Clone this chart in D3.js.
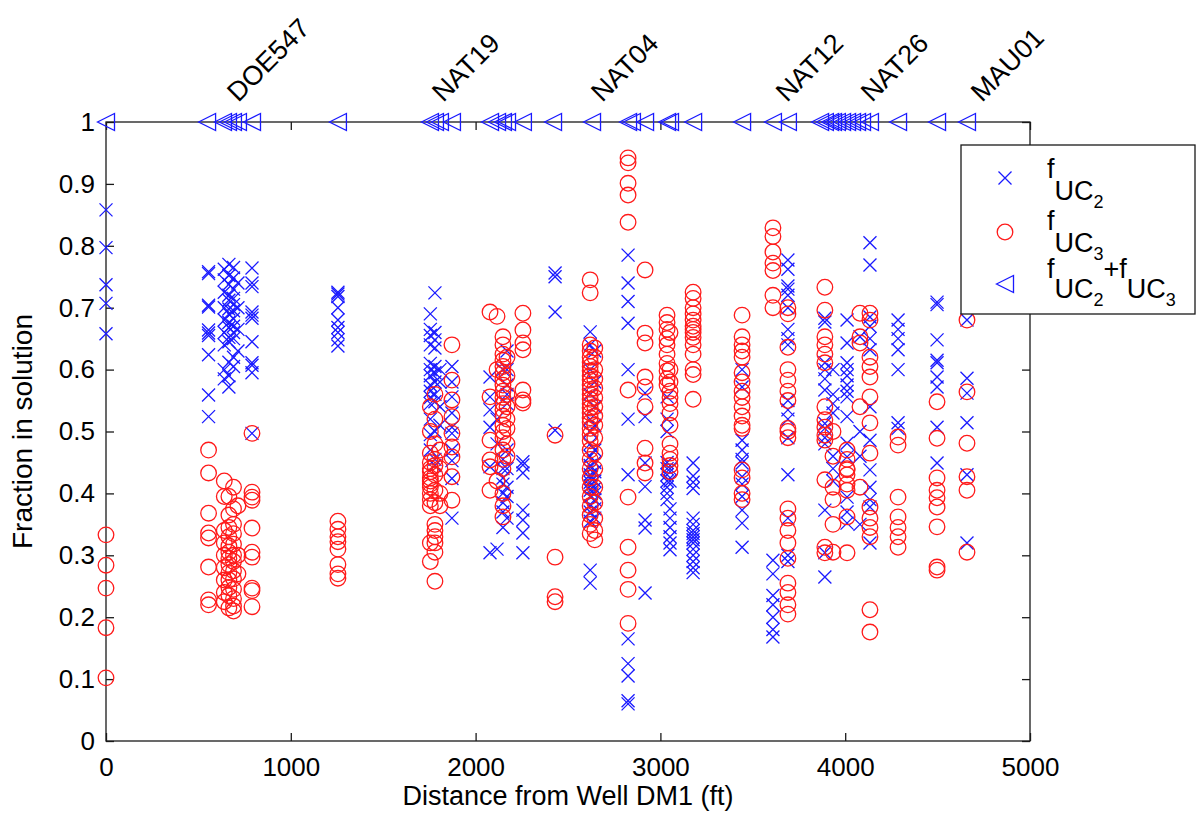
<!DOCTYPE html>
<html>
<head>
<meta charset="utf-8">
<script src="https://cdn.jsdelivr.net/npm/d3@7"></script>
<style>
  html, body { margin: 0; padding: 0; background: #fff; }
  svg { display: block; font-family: "Liberation Sans", Arial, Helvetica, sans-serif; }
</style>
</head>
<body>
<svg id="chart" width="1200" height="826"></svg>
<script>
// ---------------- data ----------------
const xTicks = [0, 1000, 2000, 3000, 4000, 5000];
const yTicks = [0, 0.1, 0.2, 0.3, 0.4, 0.5, 0.6, 0.7, 0.8, 0.9, 1];
const xTickLabels = ["0", "1000", "2000", "3000", "4000", "5000"];
const yTickLabels = ["0", "0.1", "0.2", "0.3", "0.4", "0.5", "0.6", "0.7", "0.8", "0.9", "1"];

const wellNames = ["DOE547", "NAT19", "NAT04", "NAT12", "NAT26", "MAU01"];
const wellDistances = [715, 1825, 2685, 3685, 4145, 4740];

// sample distances (ft) — one entry per group of samples
const sampleDistances = [0, 555, 640, 665, 690, 714, 790, 1255, 1755, 1780, 1807, 1872,
  2078, 2116, 2148, 2170, 2256, 2430, 2620, 2645, 2825, 2917, 3036, 3052, 3177,
  3442, 3609, 3690, 3890, 3934, 4010, 4080, 4134, 4286, 4497, 4659];

// f_UC2 values for each distance group
const fUC2 = [
  [0.858, 0.797, 0.737, 0.707, 0.658],
  [0.758, 0.755, 0.704, 0.701, 0.664, 0.659, 0.655, 0.624, 0.559, 0.524],
  [0.762, 0.745, 0.725, 0.700, 0.680, 0.660, 0.640, 0.600, 0.585],
  [0.770, 0.752, 0.738, 0.720, 0.712, 0.698, 0.690, 0.676, 0.668, 0.652, 0.645, 0.612, 0.590, 0.572],
  [0.765, 0.748, 0.730, 0.715, 0.705, 0.695, 0.682, 0.670, 0.660, 0.650, 0.620, 0.605],
  [0.740, 0.700, 0.665, 0.630],
  [0.764, 0.740, 0.734, 0.693, 0.688, 0.683, 0.645, 0.611, 0.607, 0.595, 0.497],
  [0.725, 0.722, 0.718, 0.700, 0.680, 0.668, 0.660, 0.648, 0.638],
  [0.690, 0.665, 0.655, 0.640, 0.610, 0.600, 0.590, 0.575, 0.565, 0.555, 0.545, 0.520, 0.495, 0.470],
  [0.724, 0.660, 0.648, 0.635, 0.605, 0.595, 0.580, 0.560, 0.548, 0.500, 0.455, 0.445],
  [0.600, 0.580, 0.540, 0.510],
  [0.605, 0.580, 0.556, 0.530, 0.507, 0.497, 0.470, 0.453, 0.424, 0.360],
  [0.588, 0.556, 0.535, 0.507, 0.443, 0.304],
  [0.520, 0.480, 0.310],
  [0.600, 0.455, 0.440, 0.425, 0.415, 0.400, 0.385, 0.370, 0.345],
  [0.630, 0.600, 0.575, 0.560, 0.545, 0.470, 0.440, 0.410, 0.395, 0.360],
  [0.451, 0.446, 0.433, 0.373, 0.357, 0.336, 0.304],
  [0.756, 0.750, 0.693, 0.502],
  [0.661, 0.640, 0.600, 0.560, 0.520, 0.500, 0.480, 0.460, 0.445, 0.438, 0.430, 0.425, 0.418, 0.412, 0.405, 0.395, 0.380, 0.370, 0.355, 0.276, 0.255],
  [0.630, 0.580, 0.540, 0.510, 0.470, 0.450, 0.435, 0.420, 0.408, 0.400, 0.390, 0.375, 0.360],
  [0.785, 0.740, 0.710, 0.675, 0.600, 0.520, 0.430, 0.165, 0.125, 0.105, 0.065, 0.060],
  [0.562, 0.524, 0.449, 0.411, 0.357, 0.344, 0.239],
  [0.556, 0.520, 0.500, 0.450, 0.440, 0.430, 0.420, 0.410, 0.400, 0.390],
  [0.440, 0.420, 0.375, 0.360, 0.345, 0.330, 0.320, 0.309],
  [0.449, 0.428, 0.418, 0.408, 0.360, 0.350, 0.340, 0.335, 0.330, 0.325, 0.320, 0.310, 0.300, 0.290, 0.280, 0.272],
  [0.600, 0.572, 0.486, 0.470, 0.455, 0.449, 0.427, 0.415, 0.395, 0.373, 0.352, 0.313],
  [0.292, 0.270, 0.235, 0.220, 0.200, 0.180, 0.168],
  [0.777, 0.762, 0.735, 0.730, 0.720, 0.700, 0.665, 0.650, 0.640, 0.550, 0.535, 0.520, 0.490, 0.430, 0.360, 0.300, 0.290],
  [0.683, 0.677, 0.611, 0.600, 0.585, 0.567, 0.513, 0.505, 0.490, 0.480, 0.373, 0.304, 0.265],
  [0.600, 0.560, 0.545, 0.530, 0.460, 0.440, 0.420],
  [0.680, 0.643, 0.611, 0.600, 0.590, 0.575, 0.565, 0.556, 0.524, 0.481, 0.459, 0.394, 0.370, 0.352],
  [0.653, 0.500, 0.460, 0.350],
  [0.805, 0.769, 0.685, 0.670, 0.650, 0.632, 0.540, 0.486, 0.438, 0.410, 0.390, 0.378, 0.320],
  [0.680, 0.665, 0.650, 0.632, 0.600, 0.514, 0.505],
  [0.709, 0.705, 0.648, 0.615, 0.611, 0.588, 0.572, 0.507, 0.449],
  [0.680, 0.586, 0.562, 0.514, 0.430, 0.320]
];

// f_UC3 values for each distance group
const fUC3 = [
  [0.333, 0.284, 0.247, 0.183, 0.102],
  [0.470, 0.433, 0.368, 0.336, 0.328, 0.281, 0.228, 0.220],
  [0.420, 0.395, 0.340, 0.320, 0.300, 0.280, 0.260, 0.240, 0.225],
  [0.395, 0.365, 0.345, 0.330, 0.315, 0.305, 0.295, 0.285, 0.272, 0.260, 0.248, 0.235, 0.215],
  [0.410, 0.375, 0.350, 0.335, 0.318, 0.300, 0.290, 0.275, 0.262, 0.245, 0.230, 0.218, 0.210],
  [0.380, 0.300, 0.270],
  [0.497, 0.402, 0.394, 0.389, 0.344, 0.305, 0.297, 0.247, 0.243, 0.217],
  [0.355, 0.342, 0.330, 0.322, 0.310, 0.285, 0.270, 0.263],
  [0.540, 0.500, 0.465, 0.450, 0.440, 0.435, 0.425, 0.420, 0.415, 0.410, 0.400, 0.390, 0.380, 0.320, 0.290],
  [0.560, 0.520, 0.480, 0.455, 0.445, 0.430, 0.405, 0.385, 0.350, 0.340, 0.330, 0.320, 0.305, 0.258],
  [0.470, 0.440, 0.400, 0.380],
  [0.640, 0.583, 0.551, 0.524, 0.497, 0.475, 0.459, 0.427, 0.389],
  [0.693, 0.556, 0.486, 0.454, 0.443, 0.405],
  [0.686, 0.600, 0.420],
  [0.653, 0.640, 0.625, 0.615, 0.605, 0.595, 0.585, 0.575, 0.565, 0.555, 0.545, 0.535, 0.525, 0.510, 0.500, 0.490, 0.470, 0.455, 0.440, 0.400, 0.380, 0.362],
  [0.620, 0.590, 0.560, 0.540, 0.520, 0.505, 0.480, 0.460],
  [0.691, 0.664, 0.643, 0.632, 0.567, 0.551, 0.546],
  [0.494, 0.297, 0.233, 0.225],
  [0.745, 0.724, 0.640, 0.630, 0.620, 0.612, 0.605, 0.598, 0.590, 0.583, 0.575, 0.568, 0.560, 0.552, 0.545, 0.538, 0.530, 0.522, 0.515, 0.505, 0.495, 0.485, 0.470, 0.455, 0.440, 0.425, 0.410, 0.395, 0.380, 0.365, 0.350, 0.335],
  [0.635, 0.620, 0.600, 0.585, 0.570, 0.555, 0.540, 0.525, 0.510, 0.490, 0.465, 0.440, 0.410, 0.385, 0.360, 0.340, 0.325],
  [0.942, 0.934, 0.901, 0.882, 0.838, 0.567, 0.394, 0.313, 0.276, 0.245, 0.190],
  [0.761, 0.659, 0.643, 0.588, 0.572, 0.540, 0.473, 0.449, 0.433],
  [0.688, 0.676, 0.665, 0.650, 0.640, 0.625, 0.610, 0.598, 0.585, 0.575],
  [0.660, 0.600, 0.580, 0.565, 0.555, 0.545, 0.530, 0.510, 0.480, 0.465, 0.455, 0.445, 0.435],
  [0.725, 0.715, 0.700, 0.690, 0.680, 0.670, 0.665, 0.660, 0.652, 0.640, 0.625, 0.600, 0.592, 0.552],
  [0.688, 0.653, 0.640, 0.630, 0.620, 0.595, 0.580, 0.565, 0.555, 0.540, 0.525, 0.510, 0.505, 0.438, 0.425, 0.400, 0.390],
  [0.829, 0.815, 0.790, 0.772, 0.760, 0.720, 0.700],
  [0.700, 0.690, 0.636, 0.600, 0.583, 0.565, 0.550, 0.505, 0.500, 0.490, 0.375, 0.360, 0.340, 0.320, 0.295, 0.255, 0.240, 0.220, 0.205],
  [0.733, 0.696, 0.653, 0.640, 0.625, 0.611, 0.540, 0.519, 0.507, 0.494, 0.486, 0.422, 0.313, 0.304],
  [0.500, 0.460, 0.410, 0.390, 0.350, 0.305],
  [0.470, 0.455, 0.440, 0.438, 0.430, 0.415, 0.405, 0.362, 0.304],
  [0.691, 0.653, 0.643, 0.540, 0.410],
  [0.691, 0.680, 0.620, 0.605, 0.588, 0.556, 0.514, 0.465, 0.378, 0.360, 0.345, 0.330, 0.212, 0.176],
  [0.491, 0.478, 0.394, 0.362, 0.345, 0.330, 0.313],
  [0.548, 0.489, 0.425, 0.405, 0.393, 0.378, 0.346, 0.281, 0.276],
  [0.680, 0.564, 0.481, 0.427, 0.405, 0.305]
];

// f_UC2 + f_UC3 markers (along the top)
const sumDistances = [0, 547, 633, 660, 687, 714, 790, 1255, 1753, 1780, 1807, 1872,
  2078, 2116, 2148, 2170, 2256, 2419, 2630, 2825, 2846, 2917, 3036, 3052, 3177,
  3442, 3609, 3690, 3864, 3890, 3918, 3934, 3955, 3983, 4010, 4037, 4064, 4091,
  4134, 4286, 4497, 4659];
const sumValues = [1, 1, 1, 1, 1, 1, 1, 1, 1, 1, 1, 1, 1, 1, 1, 1, 1, 1, 1, 1, 1,
  1, 1, 1, 1, 1, 1, 1, 1, 1, 1, 1, 1, 1, 1, 1, 1, 1, 1, 1, 1, 1];

// ---------------- drawing ----------------
const BLUE = "#1a1aff";
const RED = "#ff1a1a";
const AX = "#1a1a1a";
const svg = d3.select("#chart");

const plot = { left: 106, right: 1030, top: 122, bottom: 741 };
const x = d3.scaleLinear().domain([0, 5000]).range([plot.left, plot.right]);
const y = d3.scaleLinear().domain([0, 1]).range([plot.bottom, plot.top]);

const tickFont = "26px";

// axes
const gBottom = svg.append("g").attr("transform", `translate(0,${plot.bottom})`)
  .call(d3.axisBottom(x).tickValues(xTicks).tickFormat((d, i) => xTickLabels[i])
    .tickSizeInner(-8).tickSizeOuter(0).tickPadding(17));
const gTop = svg.append("g").attr("transform", `translate(0,${plot.top})`)
  .call(d3.axisTop(x).tickValues(xTicks).tickFormat("").tickSizeInner(-8).tickSizeOuter(0));
const gLeft = svg.append("g").attr("transform", `translate(${plot.left},0)`)
  .call(d3.axisLeft(y).tickValues(yTicks).tickFormat((d, i) => yTickLabels[i])
    .tickSizeInner(-8).tickSizeOuter(0).tickPadding(11));
const gRight = svg.append("g").attr("transform", `translate(${plot.right},0)`)
  .call(d3.axisRight(y).tickValues(yTicks).tickFormat("").tickSizeInner(-8).tickSizeOuter(0));

[gBottom, gTop, gLeft, gRight].forEach(g => {
  g.select(".domain").remove();
  g.selectAll(".tick line").attr("stroke", AX).attr("stroke-width", 1.3);
  g.selectAll(".tick text").attr("fill", "#000").style("font-size", tickFont)
    .style("font-family", "'Liberation Sans', Arial, sans-serif");
});

svg.append("rect")
  .attr("x", plot.left).attr("y", plot.top)
  .attr("width", plot.right - plot.left).attr("height", plot.bottom - plot.top)
  .attr("fill", "none").attr("stroke", AX).attr("stroke-width", 1.3);

// axis titles
svg.append("text")
  .attr("x", (plot.left + plot.right) / 2).attr("y", 805)
  .attr("text-anchor", "middle").style("font-size", "27px").attr("fill", "#000")
  .text("Distance from Well DM1 (ft)");
svg.append("text")
  .attr("transform", `translate(32,${(plot.top + plot.bottom) / 2}) rotate(-90)`)
  .attr("text-anchor", "middle").style("font-size", "28px").attr("fill", "#000")
  .text("Fraction in solution");

// well labels (rotated)
svg.append("g").selectAll("text").data(wellNames).join("text")
  .attr("transform", (d, i) => `translate(${x(wellDistances[i])},103) rotate(-45)`)
  .style("font-size", "27px").attr("fill", "#000")
  .text(d => d);

// marker generators
const CROSS = 6.5, CIRC = 7.8, TRI = 8.5;
function crossPath(px, py) {
  return `M${px - CROSS},${py - CROSS}L${px + CROSS},${py + CROSS}M${px - CROSS},${py + CROSS}L${px + CROSS},${py - CROSS}`;
}
function triPath(px, py) {
  return `M${px - TRI},${py}L${px + TRI},${py - TRI}L${px + TRI},${py + TRI}Z`;
}

const uc2Points = sampleDistances.flatMap((d, i) => fUC2[i].map(v => [d, v]));
const uc3Points = sampleDistances.flatMap((d, i) => fUC3[i].map(v => [d, v]));
const sumPoints = sumDistances.map((d, i) => [d, sumValues[i]]);

svg.append("g").selectAll("path").data(uc2Points).join("path")
  .attr("d", d => crossPath(x(d[0]), y(d[1])))
  .attr("fill", "none").attr("stroke", BLUE).attr("stroke-width", 1.3);

svg.append("g").selectAll("circle").data(uc3Points).join("circle")
  .attr("cx", d => x(d[0])).attr("cy", d => y(d[1])).attr("r", CIRC)
  .attr("fill", "none").attr("stroke", RED).attr("stroke-width", 1.3);

svg.append("g").selectAll("path").data(sumPoints).join("path")
  .attr("d", d => triPath(x(d[0]), y(d[1])))
  .attr("fill", "none").attr("stroke", BLUE).attr("stroke-width", 1.3);

// legend
const lg = svg.append("g");
lg.append("rect").attr("x", 961).attr("y", 145).attr("width", 234).attr("height", 169)
  .attr("fill", "#fff").attr("stroke", AX).attr("stroke-width", 1.3);

const legendRows = [
  { y: 178, kind: "cross" },
  { y: 232, kind: "circle" },
  { y: 284, kind: "tri" }
];
legendRows.forEach(r => {
  if (r.kind === "cross") {
    lg.append("path").attr("d", crossPath(1005, r.y)).attr("fill", "none").attr("stroke", BLUE).attr("stroke-width", 1.3);
  } else if (r.kind === "circle") {
    lg.append("circle").attr("cx", 1005).attr("cy", r.y).attr("r", CIRC).attr("fill", "none").attr("stroke", RED).attr("stroke-width", 1.3);
  } else {
    lg.append("path").attr("d", triPath(1005, r.y)).attr("fill", "none").attr("stroke", BLUE).attr("stroke-width", 1.3);
  }
});

function fLabel(xp, yBase, sub) {
  const t = lg.append("text").attr("x", xp).attr("y", yBase).attr("fill", "#000").style("font-size", "27px");
  t.append("tspan").text("f");
  t.append("tspan").attr("dy", 22).text("UC");
  t.append("tspan").attr("dy", 8).style("font-size", "18px").text(sub);
  return t;
}
fLabel(1047, 178, "2");
fLabel(1047, 230, "3");
const t3 = lg.append("text").attr("x", 1047).attr("y", 278).attr("fill", "#000").style("font-size", "27px");
t3.append("tspan").text("f");
t3.append("tspan").attr("dy", 20).text("UC");
t3.append("tspan").attr("dy", 8).style("font-size", "18px").text("2");
t3.append("tspan").attr("dy", -28).text("+f");
t3.append("tspan").attr("dy", 20).text("UC");
t3.append("tspan").attr("dy", 8).style("font-size", "18px").text("3");
</script>
</body>
</html>
